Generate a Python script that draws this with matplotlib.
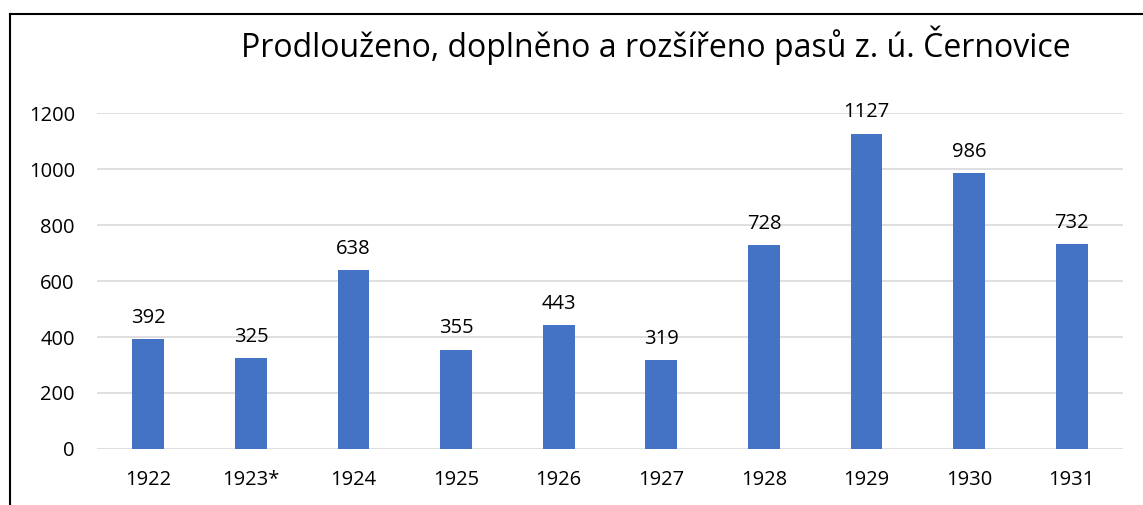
import matplotlib
matplotlib.use('Agg')
import matplotlib.pyplot as plt
from matplotlib.lines import Line2D

years = ['1922', '1923*', '1924', '1925', '1926', '1927', '1928', '1929', '1930', '1931']
passes = [392, 325, 638, 355, 443, 319, 728, 1127, 986, 732]
yticks = [0, 200, 400, 600, 800, 1000, 1200]

plt.rcParams['font.family'] = ['Open Sans', 'DejaVu Sans']

fig = plt.figure(figsize=(11.43, 5.05), dpi=100)
ax = fig.add_axes([0.0849, 0.111, 0.8976, 0.665])

x = range(len(years))
ax.bar(x, passes, width=0.31, color='#4472C4', zorder=3)
for i, v in zip(x, passes):
    ax.annotate(str(v), (i, v), xytext=(0, 8), textcoords='offset points',
                ha='center', va='bottom', fontsize=14.5)

ax.set_xlim(-0.5, len(years) - 0.5)
ax.set_ylim(0, 1200)
ax.set_yticks(yticks)
ax.set_xticks(list(x))
ax.set_xticklabels(years)
ax.grid(axis='y', color='#D9D9D9', linewidth=1.2, zorder=0)
for s in ax.spines.values():
    s.set_visible(False)
ax.tick_params(length=0, labelsize=14.5, colors='black')
ax.tick_params(axis='y', pad=16)
ax.tick_params(axis='x', pad=15)

fig.text(0.574, 0.91, 'Prodlouženo, doplněno a rozšířeno pasů z. ú. Černovice',
         ha='center', va='center', fontsize=23)

# frame lines (top and left)
fig.add_artist(Line2D([10 / 1143, 1.0], [1 - 14 / 505] * 2, color='black', lw=1.5))
fig.add_artist(Line2D([10 / 1143] * 2, [0, 1 - 14 / 505], color='black', lw=1.5))

fig.savefig('out.png', dpi=100)
